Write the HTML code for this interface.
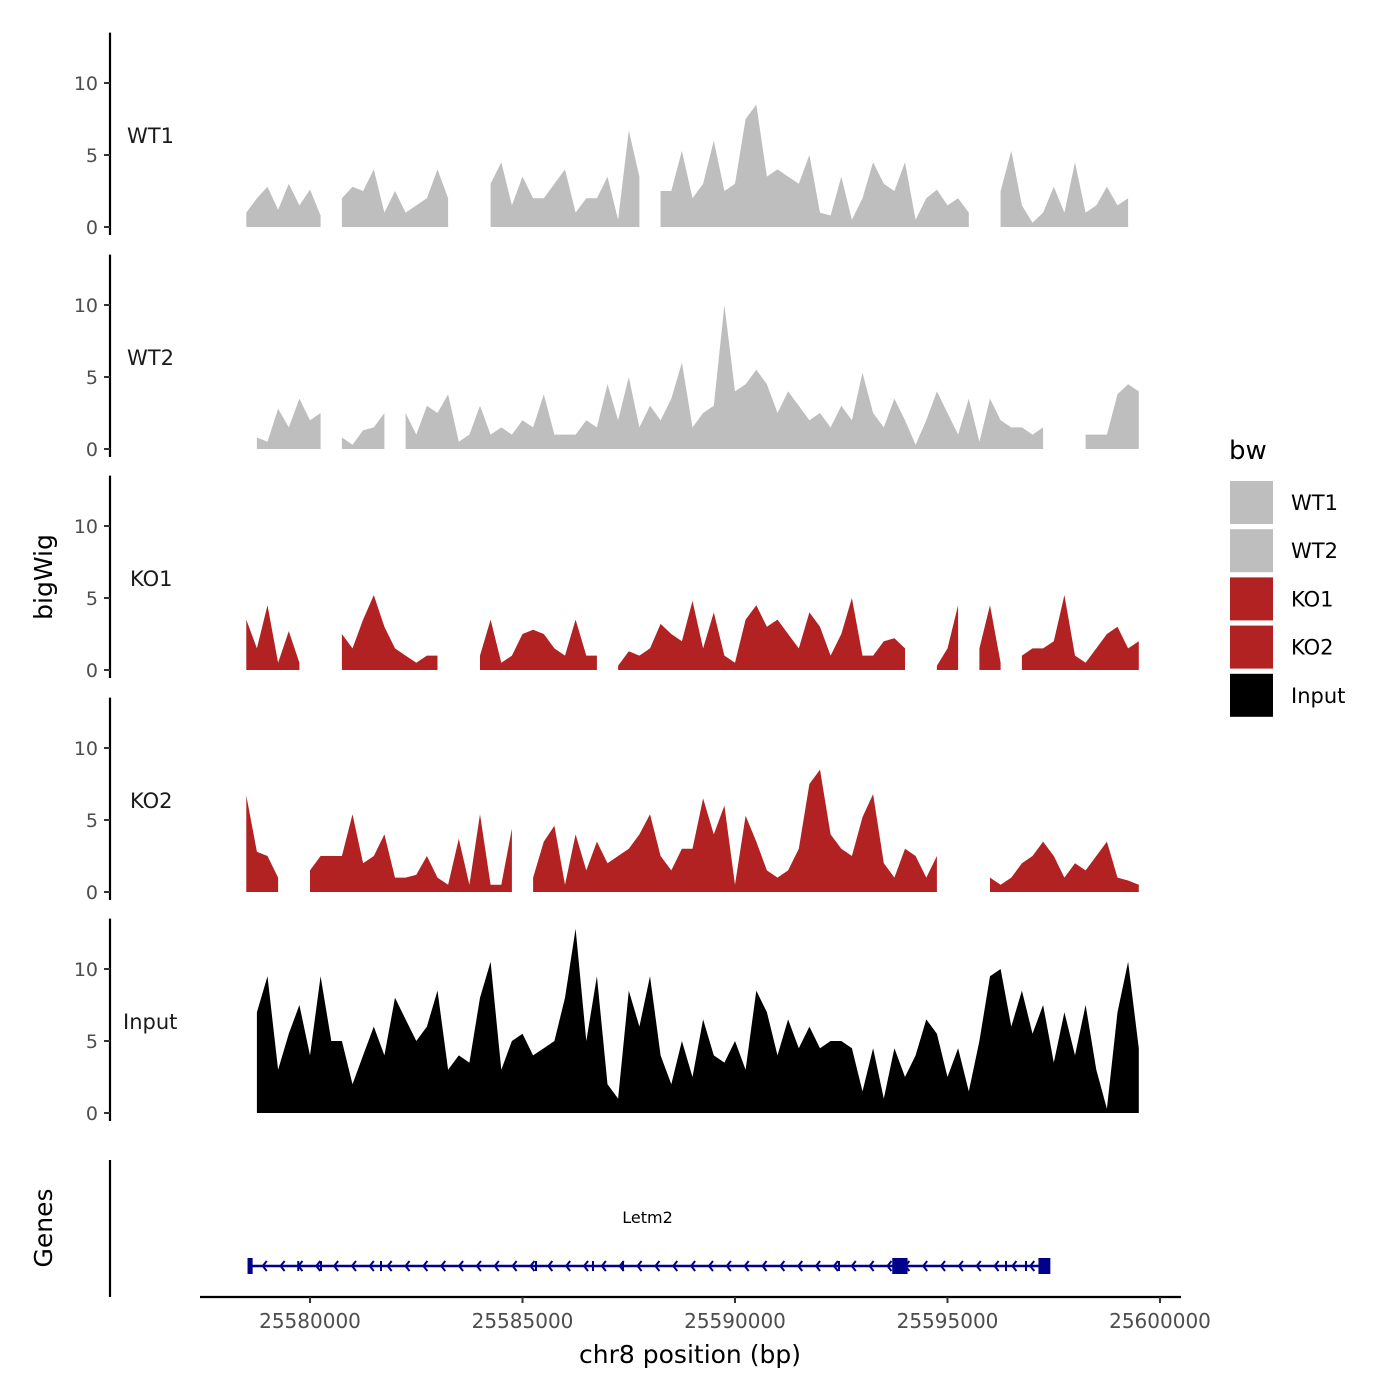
<!DOCTYPE html>
<html><head><meta charset="utf-8"><style>
html,body{margin:0;padding:0;background:#fff;}
svg{display:block;font-family:"DejaVu Sans","Liberation Sans",sans-serif;}
</style></head><body>
<svg id="chart" width="1400" height="1400" viewBox="0 0 1400 1400">
<rect x="0" y="0" width="1400" height="1400" fill="#fff"/>
<g id="panels"></g>
<g id="genes"></g>
<text x="52" y="577" font-size="25" text-anchor="middle" transform="rotate(-90 52 577)">bigWig</text>
<text x="52" y="1228" font-size="25" text-anchor="middle" transform="rotate(-90 52 1228)">Genes</text>
<text x="690" y="1363" font-size="25" text-anchor="middle">chr8 position (bp)</text>
<g id="legend"></g>
</svg>
<script>
const NS="http://www.w3.org/2000/svg";
const trackNames=["WT1","WT2","KO1","KO2","Input"];
const trackColors=["#BEBEBE","#BEBEBE","#B22222","#B22222","#000000"];
const binStart=25578500;
const binStep=250;
const wt1=[1,2,2.8,1.2,3,1.5,2.6,0.8,null,2,2.8,2.5,4,1,2.5,1,1.5,2,4,2,null,null,null,3,4.5,1.5,3.5,2,2,3,4,1,2,2,3.5,0.5,6.7,3.5,null,2.5,2.5,5.3,2,3,6,2.5,3,7.5,8.5,3.5,4,3.5,3,5,1,0.8,3.5,0.5,2,4.5,3,2.5,4.5,0.5,2,2.6,1.5,2,1,null,null,2.5,5.3,1.5,0.3,1,2.8,1,4.5,1,1.5,2.8,1.5,2,null];
const wt2=[null,0.8,0.5,2.8,1.5,3.5,2,2.5,null,0.8,0.3,1.3,1.5,2.5,null,2.5,1,3,2.5,3.8,0.5,1,3,1,1.5,1,2,1.5,3.8,1,1,1,2,1.5,4.5,2,5,1.5,3,2,3.5,6,1.5,2.5,3,10,4,4.5,5.5,4.5,2.5,4,3,2,2.5,1.5,3,2,5.3,2.5,1.5,3.5,2,0.3,2,4,2.5,1,3.5,0.5,3.5,2,1.5,1.5,1,1.5,null,null,null,1,1,1,3.8,4.5,4];
const ko1=[3.5,1.5,4.5,0.5,2.7,0.5,null,null,null,2.5,1.5,3.5,5.2,3,1.5,1,0.5,1,1,null,null,null,1,3.5,0.5,1,2.5,2.8,2.5,1.5,1,3.5,1,1,null,0.3,1.3,1,1.5,3.2,2.5,2,4.8,1.5,4,1,0.5,3.5,4.5,3,3.5,2.5,1.5,4,3,1,2.5,5,1,1,2,2.2,1.5,null,null,0.3,1.5,4.5,null,1.5,4.5,0.5,null,1,1.5,1.5,2,5.2,1,0.5,1.5,2.5,3,1.5,2];
const ko2=[6.7,2.8,2.5,1,null,null,1.5,2.5,2.5,2.5,5.4,2,2.5,4,1,1,1.2,2.5,1,0.5,3.7,0.5,5.4,0.5,0.5,4.4,null,1,3.5,4.6,0.5,4,1.5,3.5,2,2.5,3,4,5.4,2.5,1.5,3,3,6.5,4,6,0.5,5.3,3.5,1.5,1,1.5,3,7.5,8.5,4,3,2.5,5.2,6.8,2,1,3,2.5,1,2.5,null,0.8,null,null,1,0.5,1,2,2.5,3.5,2.5,1,2,1.5,2.5,3.5,1,0.8,0.5];
const input=[null,7,9.5,3,5.5,7.5,4,9.5,5,5,2,4,6,4,8,6.5,5,6,8.5,3,4,3.5,8,10.5,3,5,5.5,4,4.5,5,8,12.8,5,9.5,2,1,8.5,6,9.5,4,2,5,2.5,6.5,4,3.5,5,3,8.5,7,4,6.5,4.5,6,4.5,5,5,4.5,1.5,4.5,1,4.5,2.5,4,6.5,5.5,2.5,4.5,1.5,5,9.5,10,6,8.5,5.5,7.5,3.5,7,4,7.5,3,0.3,7,10.5,4.5];
const trackValues=[wt1,wt2,ko1,ko2,input];
const yTicks=[0,5,10];
const xTicks=[25580000,25585000,25590000,25595000,25600000];
const geneName="Letm2";
const geneStart=25578588, geneEnd=25597294;
const exonStarts=[25578530,25579700,25580235,25581647,25585294,25586635,25587341,25592423,25593700,25596353,25596823,25597140];
const exonEnds  =[25578650,25579740,25580275,25581687,25585334,25586675,25587381,25592463,25594060,25596393,25596863,25597420];
const exonThick =[1,0,0,0,0,0,0,0,1,0,0,1];

function xs(bp){return 310+(bp-25580000)*0.0425;}
const pxPerUnit=14.4;
const zeroYs=[227,449,670,892,1113];
function mk(tag,attrs,parent){const e=document.createElementNS(NS,tag);for(const k in attrs)e.setAttribute(k,attrs[k]);parent.appendChild(e);return e;}

const panels=document.getElementById('panels');
trackNames.forEach((name,t)=>{
  const z=zeroYs[t];
  const ys=v=>z-v*pxPerUnit;
  const g=mk('g',{},panels);
  
  
  const ax=mk('line',{x1:110,x2:110,y1:ys(13.5),y2:z+8,stroke:'#000','stroke-width':2.2},g);
  
  
  yTicks.forEach(v=>{
    const tk=mk('line',{x1:104,x2:110,y1:ys(v),y2:ys(v),stroke:'#333','stroke-width':2},g);
    
    
    const tl=mk('text',{x:98,y:ys(v)+7,'font-size':19,fill:'#4d4d4d','text-anchor':'end'},g);
    tl.textContent=v;
    
    
  });
  const lab=mk('text',{x:name==='Input'?123:(name.startsWith('KO')?130:127),y:ys(6.4)+8,'font-size':21,fill:'#1a1a1a'},g);
  lab.textContent=name;
  
  
  const vals=trackValues[t];
  let run=[];
  const flush=()=>{
    if(run.length>=2){
      let d='M'+xs(run[0][0]).toFixed(1)+','+z;
      run.forEach(p=>{d+=' L'+xs(p[0]).toFixed(1)+','+ys(p[1]).toFixed(1);});
      d+=' L'+xs(run[run.length-1][0]).toFixed(1)+','+z+' Z';
      const a=mk('path',{d:d,fill:trackColors[t]},g);
      
      
    }
    run=[];
  };
  vals.forEach((v,i)=>{
    if(v===null){flush();}else run.push([binStart+i*binStep,v]);
  });
  flush();
});

const gg=document.getElementById('genes');
const gax=mk('line',{x1:110,x2:110,y1:1160,y2:1297,stroke:'#000','stroke-width':2.2},gg);


const xax=mk('line',{x1:200,x2:1181,y1:1297,y2:1297,stroke:'#000','stroke-width':2.2},gg);


xTicks.forEach(v=>{
  const tk=mk('line',{x1:xs(v),x2:xs(v),y1:1297,y2:1303,stroke:'#333','stroke-width':2},gg);
  
  
  const tl=mk('text',{x:xs(v),y:1328,'font-size':20,fill:'#4d4d4d','text-anchor':'middle'},gg);
  tl.textContent=v;
  
  
});
const gy=1266;
const gl=mk('line',{x1:xs(geneStart),x2:xs(geneEnd),y1:gy,y2:gy,stroke:'#00008B','stroke-width':2.5},gg);


for(let bp=geneStart+300;bp<geneEnd-200;bp+=420){
  const x=xs(bp);
  const ar=mk('polyline',{points:(x+4)+','+(gy-5)+' '+x+','+gy+' '+(x+4)+','+(gy+5),fill:'none',stroke:'#00008B','stroke-width':2},gg);
  
  
}
exonStarts.forEach((s,i)=>{
  const h=exonThick[i]?16:10;
  const r=mk('rect',{x:xs(s),y:gy-h/2,width:Math.max(2,xs(exonEnds[i])-xs(s)),height:h,fill:'#00008B'},gg);
  
  
});
const gn=mk('text',{x:xs((geneStart+geneEnd)/2),y:1223,'font-size':16,fill:'#000','text-anchor':'middle'},gg);
gn.textContent=geneName;



const lg=document.getElementById('legend');
const lt=mk('text',{x:1229,y:459,'font-size':26,fill:'#000'},lg);
lt.textContent='bw';


trackNames.forEach((n,i)=>{
  const y=481+i*48.2;
  const r=mk('rect',{x:1230,y:y,width:43,height:43,fill:trackColors[i]},lg);
  
  
  const t=mk('text',{x:1291,y:y+29,'font-size':21,fill:'#000'},lg);
  t.textContent=n;
  
  
});
</script>
</body></html>
